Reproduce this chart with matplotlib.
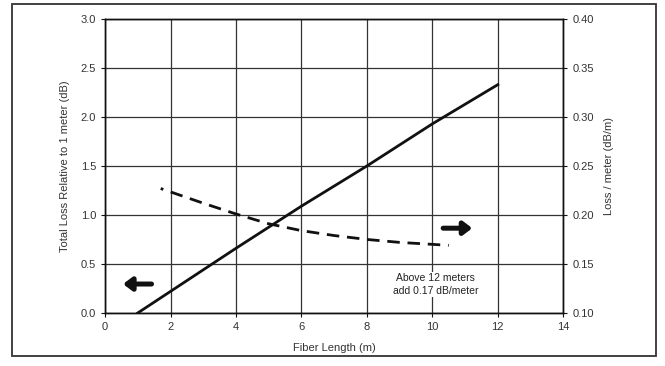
import matplotlib
matplotlib.use("Agg")
import matplotlib.pyplot as plt
from matplotlib.patches import Rectangle

plt.rcParams['font.family'] = ['Liberation Sans', 'DejaVu Sans']

# total loss (left axis)
length_total = [1, 2, 4, 6, 8, 10, 12]
loss_total = [0.0, 0.22, 0.66, 1.09, 1.50, 1.93, 2.33]

# loss per meter (right axis)
length_per_m = [1.7, 3, 4, 5, 6, 7, 8, 9, 10, 10.5]
loss_per_m = [0.227, 0.212, 0.201, 0.191, 0.184, 0.179, 0.175, 0.172, 0.170, 0.169]

x_ticks = [0, 2, 4, 6, 8, 10, 12, 14]
left_ticks = [0.0, 0.5, 1.0, 1.5, 2.0, 2.5, 3.0]
right_ticks = [0.10, 0.15, 0.20, 0.25, 0.30, 0.35, 0.40]

fig = plt.figure(figsize=(6.65, 3.66), dpi=100)
ax = fig.add_axes([0.158, 0.145, 0.689, 0.803])

# outer frame round the whole figure
fig.patches.append(Rectangle((12 / 665, 1 - 356 / 366), 644 / 665, 352 / 366,
                             transform=fig.transFigure, fill=False,
                             edgecolor='#333333', linewidth=1.3))

ax.set_xlim(0, 14)
ax.set_ylim(0, 3.0)
ax.set_xticks(x_ticks)
ax.set_yticks(left_ticks)
ax.set_yticklabels([f"{v:.1f}" for v in left_ticks])
ax.grid(True, color='#333333', linewidth=0.9)
ax.set_axisbelow(True)

ax.plot(length_total, loss_total, color='#111111', linewidth=2.0, zorder=3)

ax2 = ax.twinx()
ax2.set_ylim(0.10, 0.40)
ax2.set_yticks(right_ticks)
ax2.set_yticklabels([f"{v:.2f}" for v in right_ticks])
ax2.plot(length_per_m, loss_per_m, color='#111111', linewidth=2.0,
         linestyle=(3.5, (4.5, 2.8)), zorder=3)

for a in (ax, ax2):
    for s in a.spines.values():
        s.set_color('#111111')
        s.set_linewidth(1.0)
    a.tick_params(labelsize=8, colors='#333333', length=3, width=0.8)
    a.tick_params(color='#111111')

ax.set_xlabel("Fiber Length (m)", fontsize=8, color='#333333', labelpad=8)
ax.set_ylabel("Total Loss Relative to 1 meter (dB)", fontsize=8, color='#333333', labelpad=8)
ax2.set_ylabel("Loss / meter (dB/m)", fontsize=8, color='#333333', labelpad=7)

# direction arrows
arrow_style = dict(arrowstyle='-|>,head_length=0.5,head_width=0.38',
                   color='#111111', lw=3.6, shrinkA=0, shrinkB=0)
ax.annotate("", xy=(0.55, 0.295), xytext=(1.42, 0.295),
            arrowprops=arrow_style, zorder=4)
ax.annotate("", xy=(11.22, 0.865), xytext=(10.33, 0.865),
            arrowprops=arrow_style, zorder=4)

ax.text(10.1, 0.29, "Above 12 meters\nadd 0.17 dB/meter", fontsize=7.5,
        color='#222222', ha='center', va='center', linespacing=1.3,
        bbox=dict(facecolor='white', edgecolor='none', pad=1), zorder=5)

fig.savefig("out.png", dpi=100)
